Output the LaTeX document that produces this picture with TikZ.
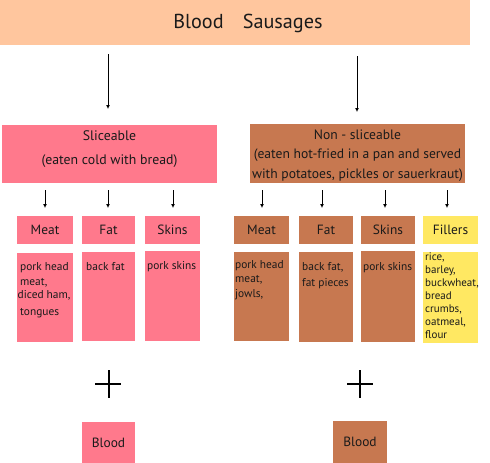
\documentclass[tikz,border=0pt]{standalone}
\usepackage{fontspec}
\setmainfont{PT Sans}
\usetikzlibrary{arrows.meta}
\definecolor{peach}{HTML}{FFC69E}
\definecolor{pinkc}{HTML}{FF798C}
\definecolor{brownc}{HTML}{C77850}
\definecolor{yellowc}{HTML}{FFE862}
\definecolor{txt}{HTML}{1A1A1A}
\begin{document}
\begin{tikzpicture}[x=1pt,y=-1pt,
  box/.style={fill=#1, draw=none, inner sep=0pt, outer sep=0pt, text=txt},
  cat/.style={box=#1, minimum width=56pt, minimum height=28pt, font=\fontsize{13.4}{15}\selectfont},
  content/.style={box=#1, minimum width=56pt, minimum height=89pt},
  ctext/.style={anchor=north west, inner sep=0pt, align=left, text=txt, font=\fontsize{11.4}{14.5}\selectfont},
  arr/.style={-{Latex[length=4pt,width=4pt]}, line width=0.8pt},
  plus/.style={line width=2pt}]
\useasboundingbox (0,0) rectangle (490,463);

% title
\node[box=peach, minimum width=470pt, minimum height=45pt, anchor=north west] (title) at (0,0) {};
\node[text=txt, inner sep=0pt, font=\fontsize{20.2}{24}\selectfont] (titlet) at (248,23) {Blood\hspace{0.95em}Sausages};

% main boxes
\node[box=pinkc, minimum width=215pt, minimum height=58pt] (slice) at (109.5,154) {};
\node[text=txt, align=center, font=\fontsize{13.8}{24}\selectfont] (slicet) at (109.5,149)
  {Sliceable\\(eaten cold with bread)};
\node[box=brownc, minimum width=215pt, minimum height=59pt] (nonslice) at (357.5,153.5) {};
\node[text=txt, align=center, font=\fontsize{13.6}{19.5}\selectfont] (nonslicet) at (357.5,155.5)
  {Non - sliceable\\(eaten hot-fried in a pan and served\\with potatoes, pickles or sauerkraut)};

% big arrows
\coordinate (a1s) at (108,54);  \coordinate (a1e) at (108,109);
\coordinate (a2s) at (357,56);  \coordinate (a2e) at (357,112);
\draw[arr] (a1s) -- (a1e);
\draw[arr] (a2s) -- (a2e);

% category boxes
\node[cat=pinkc] (lmeat) at (45,230) {Meat};
\node[cat=pinkc, minimum width=53pt] (lfat) at (108.5,230) {Fat};
\node[cat=pinkc, minimum width=55pt] (lskin) at (172.5,230) {Skins};
\node[cat=brownc, minimum width=55pt] (rmeat) at (261.5,230) {Meat};
\node[cat=brownc, minimum width=54pt] (rfat) at (326,230) {Fat};
\node[cat=brownc, minimum width=54pt] (rskin) at (388,230) {Skins};
\node[cat=yellowc, minimum width=55pt] (rfill) at (450.5,230) {Fillers};

% small arrows
\foreach \n/\x in {b1/45, b2/108, b3/173, b4/262, b5/322, b6/385, b7/447}{
  \coordinate (\n s) at (\x,190);
  \coordinate (\n e) at (\x,208);
  \draw[arr] (\n s) -- (\n e);
}

% content boxes
\node[content=pinkc] (clmeat) at (45,297) {};
\node[content=pinkc, minimum width=53pt] (clfat) at (108.5,296.5) {};
\node[content=pinkc, minimum width=55pt, minimum height=90pt] (clskin) at (172.5,296) {};
\node[content=brownc, minimum width=55pt] (crmeat) at (261.5,296.5) {};
\node[content=brownc, minimum width=54pt, minimum height=90pt] (crfat) at (326,297) {};
\node[content=brownc, minimum width=54pt, minimum height=91pt] (crskin) at (388,296.5) {};
\node[content=yellowc, minimum width=55pt, minimum height=91pt] (crfill) at (450.5,297.5) {};

\node[ctext] (tlmeat) at ([xshift=3pt,yshift=-10pt]clmeat.north west)
  {pork head\\meat,\\[-1pt]\hspace*{-2.5pt}diced ham,\\[2pt]tongues};
\node[ctext] (tlfat) at ([xshift=4pt,yshift=-10pt]clfat.north west) {back fat};
\node[ctext] (tlskin) at ([xshift=2pt,yshift=-10pt]clskin.north west) {pork skins};
\node[ctext] (trmeat) at ([xshift=1pt,yshift=-8pt]crmeat.north west) {pork head\\meat,\\jowls,};
\node[ctext] (trfat) at ([xshift=3pt,yshift=-10pt]crfat.north west) {back fat,\\[1.5pt]fat pieces};
\node[ctext] (trskin) at ([xshift=2pt,yshift=-11pt]crskin.north west) {pork skins};
\node[ctext, font=\fontsize{11}{13}\selectfont] (trfill) at ([xshift=2pt,yshift=-1pt]crfill.north west)
  {rice,\\barley,\\buckwheat,\\bread\\crumbs,\\oatmeal,\\flour};

% plus signs
\coordinate (p1l) at (95,384); \coordinate (p1r) at (121,384);
\coordinate (p1t) at (108.5,370); \coordinate (p1b) at (108.5,398);
\draw[plus] (p1l) -- (p1r); \draw[plus] (p1t) -- (p1b);
\coordinate (p2l) at (347,384); \coordinate (p2r) at (373,384);
\coordinate (p2t) at (360,370); \coordinate (p2b) at (360,398);
\draw[plus] (p2l) -- (p2r); \draw[plus] (p2t) -- (p2b);

% blood boxes
\node[cat=pinkc, minimum width=53pt, minimum height=41pt] (lblood) at (108.5,442.5) {Blood};
\node[cat=brownc, minimum width=54pt, minimum height=42pt] (rblood) at (360,442) {Blood};
\end{tikzpicture}
\end{document}
